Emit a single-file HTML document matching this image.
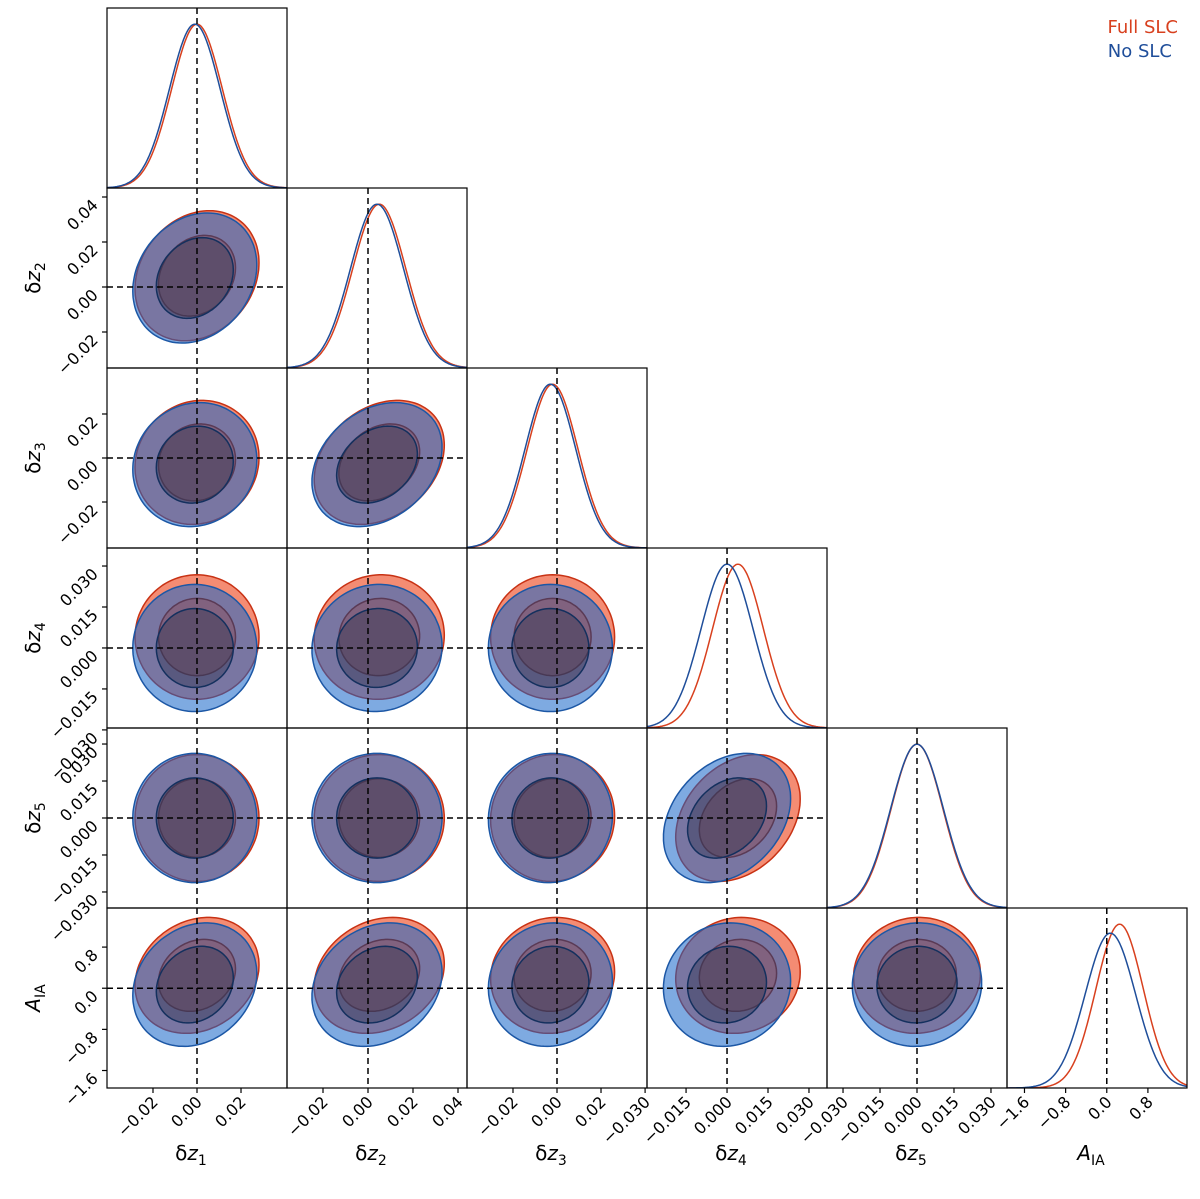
<!DOCTYPE html>
<html><head><meta charset="utf-8"><style>
html,body{margin:0;padding:0;background:#fff;}
svg{display:block;font-family:"DejaVu Sans","Liberation Sans",sans-serif;}
</style></head><body>
<svg id="chart" width="1200" height="1199" viewBox="0 0 1200 1199" xmlns="http://www.w3.org/2000/svg">
<text x="1178" y="33" text-anchor="end" font-size="18" fill="#d8401e">Full SLC</text>
<text x="1172" y="57" text-anchor="end" font-size="18" fill="#1f4e9a">No SLC</text>
</svg>
<script>
const paramNames=['z1','z2','z3','z4','z5','AIA'];
const meanFull=[0.000,0.005,-0.002,0.004,0.000,0.25];
const meanNo=[-0.001,0.004,-0.003,0.000,0.000,0.07];
const sigFull=[0.0115,0.0118,0.0115,0.0093,0.0105,0.46];
const sigNo=[0.0115,0.0118,0.0115,0.0095,0.0107,0.49];
const corrPairs=[[1,0,0.20],[2,0,0.08],[2,1,0.28],[3,0,0.0],[3,1,0.03],[3,2,0.0],[4,0,0.0],[4,1,0.0],[4,2,0.03],[4,3,0.30],[5,0,0.18],[5,1,0.20],[5,2,0.06],[5,3,0.06],[5,4,0.03]];
const rangeLo=[-0.0409,-0.036,-0.0409,-0.0293,-0.0365,-1.94];
const rangeHi=[0.0409,0.044,0.0409,0.0366,0.0365,1.56];
const tickVals=[[-0.02,0,0.02],[-0.02,0,0.02,0.04],[-0.02,0,0.02],[-0.03,-0.015,0,0.015,0.03],[-0.03,-0.015,0,0.015,0.03],[-1.6,-0.8,0,0.8]];
const tickText=[['−0.02','0.00','0.02'],['−0.02','0.00','0.02','0.04'],['−0.02','0.00','0.02'],['−0.030','−0.015','0.000','0.015','0.030'],['−0.030','−0.015','0.000','0.015','0.030'],['−1.6','−0.8','0.0','0.8']];
const peakFrac=[[0.91,0.91],[0.91,0.91],[0.91,0.91],[0.91,0.91],[0.91,0.91],[0.91,0.86]];

const NS='http://www.w3.org/2000/svg';
const svg=document.getElementById('chart');
const X0=107,Y0=8,S=180,N=6;
function el(t,a,p){const e=document.createElementNS(NS,t);for(const k in a)e.setAttribute(k,a[k]);(p||svg).appendChild(e);return e;}
function xs(i,v){return X0+i*S+(v-rangeLo[i])/(rangeHi[i]-rangeLo[i])*S;}
function ys(j,v){return Y0+(j+1)*S-(v-rangeLo[j])/(rangeHi[j]-rangeLo[j])*S;}
function corr(a,b){for(const c of corrPairs){if((c[0]===a&&c[1]===b)||(c[0]===b&&c[1]===a))return c[2];}return 0;}

const defs=el('defs',{});
const fills={fo:['rgba(239,91,55,0.7)','#c83214'],bo:['rgba(20,100,200,0.55)','#1c57a5'],fi:['rgba(140,75,85,0.45)','#5a3a55'],bi:['rgba(50,55,85,0.45)','#14305e']};

for(let row=0;row<N;row++){
  for(let col=0;col<=row;col++){
    const px=X0+col*S,py=Y0+row*S;
    const g=el('g',{});
    
    
    const cp=el('clipPath',{id:'c'+row+col},defs);
    el('rect',{x:px,y:py,width:S,height:S},cp);
    const inner=el('g',{'clip-path':'url(#c'+row+col+')'},g);
    if(col===row){
      const sets=[[meanFull,sigFull,'#d8401e',0],[meanNo,sigNo,'#1f4e9a',1]];
      for(const [m,s,c,k] of sets){
        let d='';
        for(let q=0;q<=200;q++){
          const v=rangeLo[col]+(rangeHi[col]-rangeLo[col])*q/200;
          const pdf=Math.exp(-0.5*Math.pow((v-m[col])/s[col],2));
          const yy=py+S-pdf*peakFrac[col][k]*S;
          d+=(q?'L':'M')+xs(col,v).toFixed(1)+' '+yy.toFixed(1);
        }
        const p=el('path',{d:d,fill:'none',stroke:c,'stroke-width':1.5},inner);
        
        
      }
    } else {
      const layers=[[meanFull,sigFull,2.45,'fo'],[meanNo,sigNo,2.45,'bo'],[meanFull,sigFull,1.52,'fi'],[meanNo,sigNo,1.52,'bi']];
      for(const [m,s,r,key] of layers){
        const rho=corr(col,row);
        let d='';
        for(let q=0;q<=120;q++){
          const t=2*Math.PI*q/120;
          const u=r*Math.cos(t),w=r*Math.sin(t);
          const vx=m[col]+s[col]*u;
          const vy=m[row]+s[row]*(rho*u+Math.sqrt(1-rho*rho)*w);
          d+=(q?'L':'M')+xs(col,vx).toFixed(1)+' '+ys(row,vy).toFixed(1);
        }
        const p=el('path',{d:d+'Z',fill:fills[key][0],stroke:fills[key][1],'stroke-width':1.5},inner);
        
        
      }
      el('line',{x1:px,x2:px+S,y1:ys(row,0),y2:ys(row,0),stroke:'#000','stroke-width':1.5,'stroke-dasharray':'6,4'},inner);
    }
    el('line',{x1:xs(col,0),x2:xs(col,0),y1:py,y2:py+S,stroke:'#000','stroke-width':1.5,'stroke-dasharray':'6,4'},inner);
    el('rect',{x:px,y:py,width:S,height:S,fill:'none',stroke:'#000','stroke-width':1.2},g);
  }
}
const by=Y0+N*S;
for(let i=0;i<N;i++){
  tickVals[i].forEach((v,k)=>{
    const x=xs(i,v);
    el('line',{x1:x,x2:x,y1:by,y2:by+5,stroke:'#000','stroke-width':1.2});
    const t=el('text',{x:x+6,y:by+15,'text-anchor':'end','font-size':16,transform:'rotate(-45 '+(x+6)+' '+(by+15)+')'});
    t.textContent=tickText[i][k];
    
    
  });
}
for(let j=1;j<N;j++){
  tickVals[j].forEach((v,k)=>{
    const y=ys(j,v);
    el('line',{x1:X0-5,x2:X0,y1:y,y2:y,stroke:'#000','stroke-width':1.2});
    const t=el('text',{x:X0-8,y:y+9,'text-anchor':'end','font-size':16,transform:'rotate(-45 '+(X0-8)+' '+(y+9)+')'});
    t.textContent=tickText[j][k];
    
    
  });
}
const labelHTML=[['δ','z','1'],['δ','z','2'],['δ','z','3'],['δ','z','4'],['δ','z','5'],['','A','IA']];
function mkLabel(i,x,y,rot){
  const t=el('text',{x:x,y:y,'text-anchor':'middle','font-size':20});
  if(rot)t.setAttribute('transform','rotate(-90 '+x+' '+y+')');
  const a=el('tspan',{},t);a.textContent=labelHTML[i][0];
  const b=el('tspan',{'font-style':'italic'},t);b.textContent=labelHTML[i][1];
  const c=el('tspan',{'font-size':14,dy:5},t);c.textContent=labelHTML[i][2];
  return t;
}
for(let i=0;i<N;i++){
  const t=mkLabel(i,X0+i*S+S/2-6,1160,false);
  
  
}
for(let j=1;j<N;j++){
  const t=mkLabel(j,40,Y0+j*S+S/2,true);
  
  
}
</script>
</body></html>
